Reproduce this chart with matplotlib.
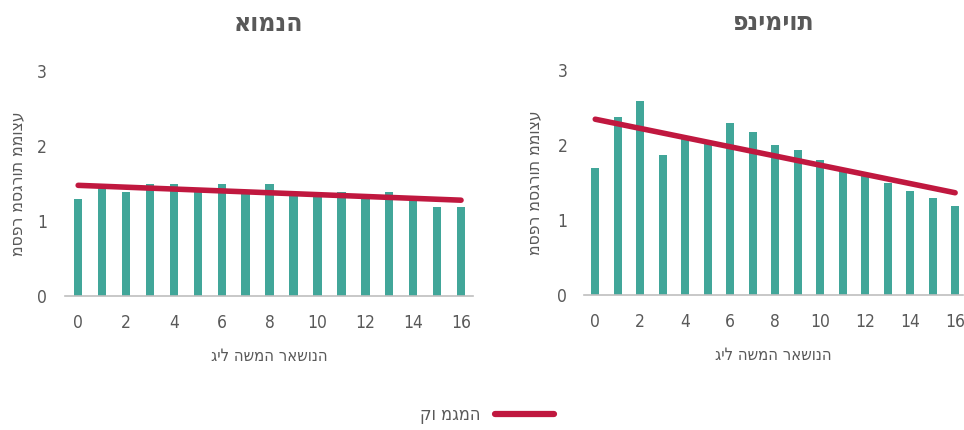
import numpy as np
import matplotlib
matplotlib.use("Agg")
import matplotlib.pyplot as plt
from matplotlib.lines import Line2D

plt.rcParams['font.family'] = ['DejaVu Sans']
plt.rcParams['font.stretch'] = 'condensed'

ages = list(range(17))
foster_values = [1.29, 1.47, 1.39, 1.49, 1.49, 1.42, 1.49, 1.40, 1.49, 1.38, 1.35, 1.39, 1.29, 1.39, 1.29, 1.19, 1.19]
resid_values = [1.70, 2.38, 2.59, 1.87, 2.09, 2.03, 2.29, 2.18, 2.00, 1.93, 1.80, 1.67, 1.62, 1.49, 1.39, 1.29, 1.19]
titles = ["אומנה", "פנימיות"]
xlabel = "גיל השמה ראשונה"
ylabel = "מספר מסגרות ממוצע"
legend_label = "קו מגמה"
xticks = [0, 2, 4, 6, 8, 10, 12, 14, 16]
yticks = [0, 1, 2, 3]

BAR = "#41A699"
TREND = "#C0183F"
TXT = "#595959"

fig = plt.figure(figsize=(9.64, 4.30), dpi=100)
axes = [fig.add_axes([65/964, 1-296/430, (473-65)/964, (296-71)/430]),
        fig.add_axes([584/964, 1-295/430, (963-584)/964, (295-70)/430])]
xlims = [(-0.55, 16.5), (-0.5, 16.35)]
ypads = [13, 12]
ylpads = [8, 10]

for ax, vals, title, xl, yp, ylp in zip(axes, [foster_values, resid_values], titles, xlims, ypads, ylpads):
    x = np.array(ages)
    y = np.array(vals)
    ax.bar(x, y, width=0.35, color=BAR, zorder=2)
    k, b = np.polyfit(x, y, 1)
    ax.plot([x[0], x[-1]], [k*x[0]+b, k*x[-1]+b], color=TREND, lw=4, solid_capstyle='round', zorder=3)
    ax.set_xlim(*xl)
    ax.set_ylim(0, 3)
    ax.set_xticks(xticks)
    ax.set_yticks(yticks)
    for s in ['top', 'right', 'left']:
        ax.spines[s].set_visible(False)
    ax.spines['bottom'].set_color('#BFBFBF')
    ax.spines['bottom'].set_linewidth(1.2)
    ax.tick_params(axis='both', length=0, colors=TXT, labelsize=12.5)
    ax.tick_params(axis='x', pad=13)
    ax.tick_params(axis='y', pad=yp)
    ax.set_title(title, fontsize=19, fontweight='bold', color=TXT, pad=29)
    ax.set_xlabel(xlabel, fontsize=12, color=TXT, labelpad=11)
    ax.set_ylabel(ylabel, fontsize=12.5, color=TXT, labelpad=ylp)

handle = Line2D([], [], color=TREND, lw=4.5, solid_capstyle='round')
fig.legend([handle], [legend_label], loc='center', bbox_to_anchor=(0.505, 1-415/430),
           frameon=False, markerfirst=False, fontsize=13, labelcolor=TXT, handlelength=3.3)

fig.savefig("out.png", dpi=100)
